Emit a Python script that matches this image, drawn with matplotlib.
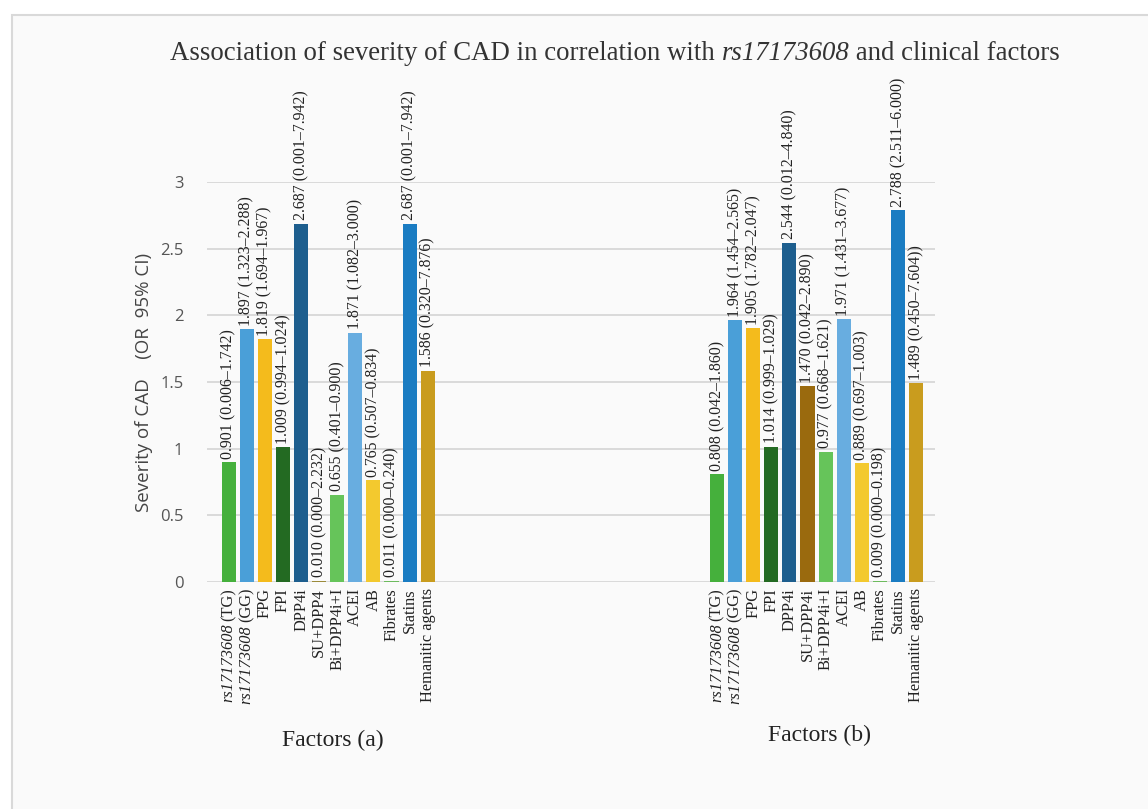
import matplotlib.pyplot as plt
from matplotlib.patches import Rectangle
import matplotlib.transforms as mtrans

SERIF = 'Liberation Serif'

names_a = ['rs17173608|(TG)', 'rs17173608|(GG)', 'FPG', 'FPI', 'DPP4i', 'SU+DPP4',
           'Bi+DPP4i+I', 'ACEI', 'AB', 'Fibrates', 'Statins', 'Hemanitic agents']
names_b = ['rs17173608|(TG)', 'rs17173608|(GG)', 'FPG', 'FPI', 'DPP4i', 'SU+DPP4i',
           'Bi+DPP4i+I', 'ACEI', 'AB', 'Fibrates', 'Statins', 'Hemanitic agents']

vals_a = [0.901, 1.897, 1.819, 1.009, 2.687, 0.010, 0.655, 1.871, 0.765, 0.011, 2.687, 1.586]
vals_b = [0.808, 1.964, 1.905, 1.014, 2.544, 1.470, 0.977, 1.971, 0.889, 0.009, 2.788, 1.489]

ci_a = ['(0.006–1.742)', '(1.323–2.288)', '(1.694–1.967)', '(0.994–1.024)',
        '(0.001–7.942)', '(0.000–2.232)', '(0.401–0.900)', '(1.082–3.000)',
        '(0.507–0.834)', '(0.000–0.240)', '(0.001–7.942)', '(0.320–7.876)']
ci_b = ['(0.042–1.860)', '(1.454–2.565)', '(1.782–2.047)', '(0.999–1.029)',
        '(0.012–4.840)', '(0.042–2.890)', '(0.668–1.621)', '(1.431–3.677)',
        '(0.697–1.003)', '(0.000–0.198)', '(2.511–6.000)', '(0.450–7.604))']

cols_a = ['#45b03c', '#4a9fd8', '#f4bb1c', '#236a22', '#1d5e8e', '#9b8a3a',
          '#66c45a', '#68ade0', '#f3c92e', '#6dbb5e', '#1a7cc2', '#c99c1e']
cols_b = ['#45b03c', '#4a9fd8', '#f4bb1c', '#236a22', '#1d5e8e', '#9a6a0e',
          '#66c45a', '#68ade0', '#f3c92e', '#6dbb5e', '#1a7cc2', '#c99c1e']

fig = plt.figure(figsize=(11.48, 8.09), dpi=100)
fig.patch.set_facecolor('white')
fig.patches.append(Rectangle((12/1148, -0.01), 1.0, 1 - 15/809 + 0.01,
                             transform=fig.transFigure, facecolor='#fafafa',
                             edgecolor='#d9d9d9', linewidth=1.5, zorder=-10))

ax = fig.add_axes([207/1148, 1 - 582/809, (935 - 207)/1148, 400/809])
ax.set_facecolor('none')
ax.set_zorder(2)

xa = list(range(12))
xb = [i + 27 for i in range(12)]

ax.bar(xa, vals_a, width=0.78, color=cols_a, zorder=3)
ax.bar(xb, vals_b, width=0.78, color=cols_b, zorder=3)

for x, v, c in zip(xa + xb, vals_a + vals_b, ci_a + ci_b):
    ax.text(x, v + 0.025, '%.3f %s' % (v, c), rotation=90, ha='center', va='bottom',
            fontsize=11.4, family=SERIF, color='#222222', clip_on=False)

ax.set_ylim(0, 3)
ax.set_xlim(-1.2, 39.05)
ax.set_yticks([0, 0.5, 1, 1.5, 2, 2.5, 3])
ax.set_yticklabels(['0', '0.5', '1', '1.5', '2', '2.5', '3'])
ax.grid(axis='y', color='#d4d4d4', linewidth=1.2, zorder=0)
ax.set_axisbelow(True)
for s in ax.spines.values():
    s.set_visible(False)
ax.tick_params(axis='y', length=0, pad=17, labelsize=12, labelcolor='#555555')
for t in ax.get_yticklabels():
    t.set_family('Open Sans')
ax.set_xticks([])

ax.set_ylabel('Severity of CAD    (OR  95% CI)', fontsize=13.5, family='Open Sans',
              color='#444444', labelpad=5)

fig.canvas.draw()
r = fig.canvas.get_renderer()

# x tick labels, rotated, with italic SNP name
trans = mtrans.blended_transform_factory(ax.transData, ax.transAxes)
for x, name in zip(xa + xb, names_a + names_b):
    if '|' in name:
        it_part, rm_part = name.split('|')
        t1 = ax.annotate(rm_part, (x, 0), xycoords=trans, xytext=(0, -6),
                         textcoords='offset pixels', rotation=90, ha='center', va='top',
                         fontsize=11.8, family=SERIF, color='#222222')
        h = t1.get_window_extent(r).height
        ax.annotate(it_part, (x, 0), xycoords=trans, xytext=(0, -6 - h - 3),
                    textcoords='offset pixels', rotation=90, ha='center', va='top',
                    fontsize=11.8, family=SERIF, style='italic', color='#222222')
    else:
        ax.annotate(name, (x, 0), xycoords=trans, xytext=(0, -6),
                    textcoords='offset pixels', rotation=90, ha='center', va='top',
                    fontsize=11.8, family=SERIF, color='#222222')

# title with italic part
parts = [('Association of severity of CAD in correlation with ', 'normal'),
         ('rs17173608', 'italic'), (' and clinical factors', 'normal')]
texts = []
for s, st in parts:
    texts.append(fig.text(0, 1 - 53/809, s, ha='left', va='center', fontsize=19.3,
                          family=SERIF, style=st, color='#333333'))
widths = [t.get_window_extent(r).width for t in texts]
x0 = 615 - sum(widths) / 2
for t, w in zip(texts, widths):
    t.set_x(x0 / 1148)
    x0 += w

fig.text(333/1148, 1 - 740/809, 'Factors (a)', ha='center', va='center',
         fontsize=17, family=SERIF, color='#222222')
fig.text(820/1148, 1 - 735/809, 'Factors (b)', ha='center', va='center',
         fontsize=17, family=SERIF, color='#222222')

fig.savefig('out.png', dpi=100)
